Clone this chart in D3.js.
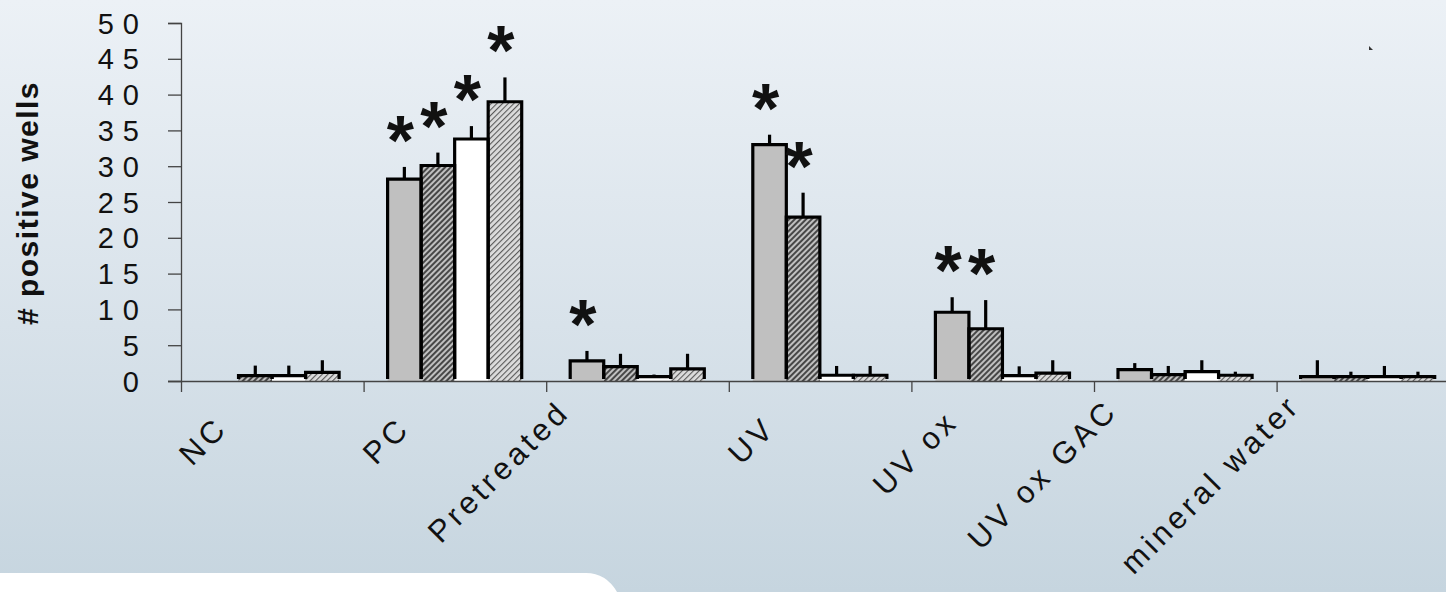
<!DOCTYPE html>
<html>
<head>
<meta charset="utf-8">
<script src="https://cdn.jsdelivr.net/npm/d3@7"></script>
<style>
  html, body { margin: 0; padding: 0; background: #dfe7ee; }
  svg { display: block; }
  text { font-family: "Liberation Sans", Arial, sans-serif; fill: #111; }
</style>
</head>
<body>
<svg id="chart" width="1446" height="592"></svg>
<script>
// Treatment groups along the x axis
const categories = ["NC", "PC", "Pretreated", "UV", "UV ox", "UV ox GAC", "mineral water"];

// Mean number of positive wells per series (one value per treatment group)
const seriesGrey       = [0,    28.2, 2.8, 33.0, 9.6, 1.6, 0.6];
const seriesDarkHatch  = [0.75, 30.1, 2.0, 22.9, 7.3, 0.9, 0.6];
const seriesWhite      = [0.75, 33.8, 0.6, 0.8,  0.75, 1.3, 0.6];
const seriesLightHatch = [1.2,  39.0, 1.7, 0.8,  1.1, 0.8, 0.6];

// Upper error (standard deviation) per series
const errGrey       = [0,   1.7, 1.4, 1.4, 2.1, 0.9, 2.3];
const errDarkHatch  = [1.4, 1.8, 1.8, 3.4, 4.0, 1.2, 0.7];
const errWhite      = [1.4, 1.8, 0.3, 1.3, 1.3, 1.6, 1.5];
const errLightHatch = [1.7, 3.4, 2.1, 1.3, 1.8, 0.5, 0.7];

// Significance markers (1 = asterisk above the bar)
const sigGrey       = [0, 1, 1, 1, 1, 0, 0];
const sigDarkHatch  = [0, 1, 0, 1, 1, 0, 0];
const sigWhite      = [0, 1, 0, 0, 0, 0, 0];
const sigLightHatch = [0, 1, 0, 0, 0, 0, 0];

const yTicks = [0, 5, 10, 15, 20, 25, 30, 35, 40, 45, 50];
const yTitle = "# positive wells";

const series = [
  { values: seriesGrey,       err: errGrey,       sig: sigGrey,       fill: "#c0c0c0" },
  { values: seriesDarkHatch,  err: errDarkHatch,  sig: sigDarkHatch,  fill: "url(#hatchDark)" },
  { values: seriesWhite,      err: errWhite,      sig: sigWhite,      fill: "#ffffff" },
  { values: seriesLightHatch, err: errLightHatch, sig: sigLightHatch, fill: "url(#hatchLight)" }
];

const W = 1446, H = 592;
const svg = d3.select("#chart");
const defs = svg.append("defs");

// Background gradient
const bg = defs.append("linearGradient").attr("id", "bgGrad")
  .attr("x1", 0).attr("y1", 0).attr("x2", 0).attr("y2", 1);
bg.append("stop").attr("offset", "0%").attr("stop-color", "#ecf1f6");
bg.append("stop").attr("offset", "55%").attr("stop-color", "#d8e2ea");
bg.append("stop").attr("offset", "100%").attr("stop-color", "#c6d5df");

// Diagonal hatch fills
function hatch(id, bgColor, lineColor, lineWidth) {
  const p = defs.append("pattern").attr("id", id)
    .attr("patternUnits", "userSpaceOnUse")
    .attr("width", 4).attr("height", 4)
    .attr("patternTransform", "rotate(45)");
  p.append("rect").attr("width", 4).attr("height", 4).attr("fill", bgColor);
  p.append("rect").attr("x", 0).attr("y", 0).attr("width", lineWidth).attr("height", 4).attr("fill", lineColor);
}
hatch("hatchDark", "#c0c0c0", "#474747", 2);
hatch("hatchLight", "#dcdcdc", "#5a5a5a", 1.1);

svg.append("rect").attr("width", W).attr("height", H).attr("fill", "url(#bgGrad)");

// White panel in the lower-left corner
svg.append("path")
  .attr("d", "M0,573 H586 Q606,573 617,592 H0 Z")
  .attr("fill", "#ffffff");

// Small dark speck near the top right
svg.append("path").attr("d", "M1369,46 L1373,50 L1369,50 Z").attr("fill", "#333");

// Scales
const groupStep = 182.6;
const x0 = d3.scaleBand().domain(categories)
  .range([181, 181 + groupStep * categories.length]).padding(0);
const x1 = d3.scaleBand().domain(d3.range(series.length))
  .range([24, groupStep - 24.5]).padding(0);
const y = d3.scaleLinear().domain([0, 50]).range([381, 23]);

const bw = x1.bandwidth();

// Bars
const plot = svg.append("g");
series.forEach((s, si) => {
  categories.forEach((c, ci) => {
    const v = s.values[ci];
    if (v <= 0) return;
    const xl = x0(c) + x1(si);
    plot.append("rect")
      .attr("x", xl).attr("y", y(v))
      .attr("width", bw).attr("height", y(0) - y(v) + 1)
      .attr("fill", s.fill);
  });
});
series.forEach((s, si) => {
  categories.forEach((c, ci) => {
    const v = s.values[ci];
    if (v <= 0) return;
    const xl = x0(c) + x1(si);
    plot.append("path")
      .attr("d", `M${xl},${y(0) - 2} V${y(v)} H${xl + bw} V${y(0) - 2}`)
      .attr("fill", "none").attr("stroke", "#000").attr("stroke-width", 3.2);
    // error bar (upper only)
    const xc = xl + bw / 2;
    plot.append("line")
      .attr("x1", xc).attr("x2", xc)
      .attr("y1", y(v)).attr("y2", y(v + s.err[ci]))
      .attr("stroke", "#000").attr("stroke-width", 3.2);
    if (s.sig[ci]) {
      plot.append("text")
        .attr("x", xc - 4).attr("y", y(v + s.err[ci]) - 2)
        .attr("text-anchor", "middle")
        .attr("font-size", 70).attr("font-weight", "bold")
        .text("*");
    }
  });
});

// Y axis
const yAxis = d3.axisLeft(y).tickValues(yTicks).tickSize(13).tickPadding(20)
  .tickFormat(d => String(d));
const gy = svg.append("g").attr("transform", "translate(181,0)").call(yAxis);
gy.select(".domain").attr("stroke", "#444").attr("stroke-width", 1.3);
gy.selectAll(".tick line").attr("stroke", "#444").attr("stroke-width", 1.3);
gy.selectAll(".tick text")
  .attr("font-size", 29).attr("fill", "#111")
  .attr("font-family", "Liberation Sans, Arial, sans-serif")
  .style("letter-spacing", "9px")
  .attr("dy", null).attr("y", 10);

// X axis: tick marks at group boundaries
const xb = d3.scaleLinear().domain([0, categories.length])
  .range([181, 181 + groupStep * categories.length]);
const xAxis = d3.axisBottom(xb).tickValues(d3.range(categories.length + 1))
  .tickSize(11).tickSizeOuter(0).tickFormat("");
const gx = svg.append("g").attr("transform", "translate(0,381)").call(xAxis);
gx.select(".domain").attr("stroke", "#444").attr("stroke-width", 1.3);
gx.selectAll(".tick line").attr("stroke", "#444").attr("stroke-width", 1.3);
svg.append("line").attr("x1", 168).attr("x2", 181).attr("y1", 381.5).attr("y2", 381.5)
  .attr("stroke", "#444").attr("stroke-width", 1.3);

// Rotated category labels, end-anchored below each group
const labels = svg.append("g");
categories.forEach(c => {
  const t = labels.append("text")
    .attr("font-size", 31)
    .style("letter-spacing", "4px")
    .attr("text-anchor", "end")
    .text(c);
  const len = t.node().getComputedTextLength();
  const nudge = len > 150 ? 23 : 0;
  const ax = x0(c) + x0.bandwidth() / 2 - 43 - nudge;
  const ay = 430 - 0.12 * (len - 50);
  t.attr("transform", `translate(${ax},${ay}) rotate(-45)`);
});

// Y axis title
svg.append("text")
  .attr("transform", "translate(38,203) rotate(-90)")
  .attr("text-anchor", "middle")
  .attr("font-size", 30).attr("font-weight", "bold")
  .style("letter-spacing", "1.5px")
  .text(yTitle);
</script>
</body>
</html>
